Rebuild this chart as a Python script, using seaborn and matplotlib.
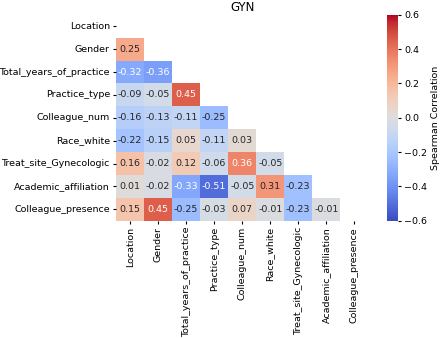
import numpy as np
import pandas as pd
import matplotlib.pyplot as plt
import seaborn as sns

# Variables y correlaciones (triangulo inferior, por filas)
variables = ["Location", "Gender", "Total_years_of_practice", "Practice_type",
             "Colleague_num", "Race_white", "Treat_site_Gynecologic",
             "Academic_affiliation", "Colleague_presence"]

fila_gender = [0.25]
fila_total_years = [-0.32, -0.36]
fila_practice_type = [-0.09, -0.05, 0.45]
fila_colleague_num = [-0.16, -0.13, -0.11, -0.25]
fila_race_white = [-0.22, -0.15, 0.05, -0.11, 0.03]
fila_treat_site = [0.16, -0.02, 0.12, -0.06, 0.36, -0.05]
fila_academic = [0.01, -0.02, -0.33, -0.51, -0.05, 0.31, -0.23]
fila_colleague_presence = [0.15, 0.45, -0.25, -0.03, 0.07, -0.01, -0.23, -0.01]

filas = [[], fila_gender, fila_total_years, fila_practice_type, fila_colleague_num,
         fila_race_white, fila_treat_site, fila_academic, fila_colleague_presence]

n = len(variables)
corr = np.eye(n)
for i, fila in enumerate(filas):
    for j, v in enumerate(fila):
        corr[i, j] = v
        corr[j, i] = v
corr_df = pd.DataFrame(corr, index=variables, columns=variables)

mask = np.triu(np.ones_like(corr, dtype=bool))

fs = 6.8
fig = plt.figure(figsize=(4.4, 3.38), dpi=100)
ax = fig.add_axes([0.264, 0.347, 0.573, 0.609])
cax = fig.add_axes([0.880, 0.347, 0.024, 0.609])

sns.heatmap(corr_df, mask=mask, cmap="coolwarm", vmin=-0.6, vmax=0.6,
            annot=True, fmt=".2f", annot_kws={"size": fs}, ax=ax, cbar_ax=cax)

ax.set_title("GYN", fontsize=8.5, pad=3)
ax.tick_params(labelsize=fs, length=2.5, pad=2)
ax.set_xticklabels(variables, rotation=90)
ax.set_yticklabels(variables, rotation=0)
cax.tick_params(labelsize=fs, length=2.5, pad=2)
cax.set_yticks([-0.6, -0.4, -0.2, 0.0, 0.2, 0.4, 0.6])
cax.set_ylabel("Spearman Correlation", fontsize=fs, labelpad=3)

plt.savefig("out.png", dpi=100)
plt.close()
